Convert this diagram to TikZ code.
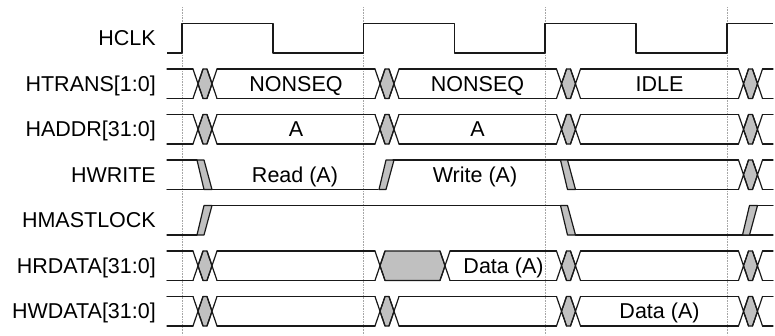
\documentclass[tikz,border=0pt]{standalone}
\usepackage{fontspec}
\setmainfont{Liberation Sans}
\usepackage{xcolor}
\usepackage{tikz}
\definecolor{xgray}{RGB}{192,192,192}
\tikzset{
  wave/.style={line width=1.2pt, black!90, line cap=round, line join=round},
  gapfill/.style={wave, fill=xgray},
  edgeline/.style={densely dotted, gray!70, line width=0.6pt},
  sig/.style={anchor=east, inner sep=0pt, text height=15pt, text depth=0pt, font=\fontsize{21.5}{24}\selectfont},
  val/.style={inner sep=0pt, text height=15pt, text depth=0pt, font=\fontsize{21.5}{24}\selectfont}
}
% bus change: start, top, bottom
\newcommand{\busswap}[3]{
  \filldraw[gapfill] ({#1+5},{(#2+#3)/2}) -- ({#1+10},#2) -- ({#1+14},#2) -- ({#1+19},{(#2+#3)/2}) -- ({#1+14},#3) -- ({#1+10},#3) -- cycle;
  \draw[wave] (#1,#2) -- ({#1+10},#3) (#1,#3) -- ({#1+10},#2);
  \draw[wave] ({#1+14},#2) -- ({#1+24},#3) ({#1+14},#3) -- ({#1+24},#2);
}
% single bit edges
\newcommand{\bitfall}[3]{
  \filldraw[gapfill] ({#1+4},#2) -- ({#1+11},#2) -- ({#1+19},#3) -- ({#1+11},#3) -- cycle;
}
\newcommand{\bitrise}[3]{
  \filldraw[gapfill] ({#1+4},#3) -- ({#1+11},#3) -- ({#1+19},#2) -- ({#1+11},#2) -- cycle;
}
% full bus row
\newcommand{\busrow}[2]{
  \foreach \s/\e in {167/193, 217/375, 399/556.5, 580.5/738.5, 762.5/773}
    \draw[wave] (\s,#1) -- (\e,#1) (\s,#2) -- (\e,#2);
  \foreach \s in {193, 375, 556.5, 738.5}
    {\busswap{\s}{#1}{#2}}
}

\begin{document}
\begin{tikzpicture}[x=1pt, y=-1pt]
\useasboundingbox (0,0) rectangle (775,335);

% clock edges
\foreach \x in {182, 363.5, 545, 727}
  \draw[edgeline] (\x,7) -- (\x,335);

% signal names
\node[sig] (hclk) at (156,38) {HCLK};
\node[sig] (htrans) at (156,83.75) {HTRANS[1:0]};
\node[sig] (haddr) at (156,129.25) {HADDR[31:0]};
\node[sig] (hwrite) at (156,174.75) {HWRITE};
\node[sig] (hmastlock) at (156,220.25) {HMASTLOCK};
\node[sig] (hrdata) at (156,265.75) {HRDATA[31:0]};
\node[sig] (hwdata) at (156,311.25) {HWDATA[31:0]};

% HCLK
\draw[wave, line cap=butt] (167,53) -- (182,53) -- (182,23.5) -- (273,23.5) -- (273,53) -- (363.5,53) -- (363.5,23.5)
  -- (454.5,23.5) -- (454.5,53) -- (545,53) -- (545,23.5) -- (636,23.5) -- (636,53) -- (727,53) -- (727,23.5) -- (773,23.5);

% HTRANS
\busrow{69}{98.5}
\node[val] (trans1) at (296,83.75) {NONSEQ};
\node[val] (trans2) at (477.5,83.75) {NONSEQ};
\node[val] (trans3) at (659.5,83.75) {IDLE};

% HADDR
\busrow{114.5}{144}
\node[val] (addr1) at (296,129.25) {A};
\node[val] (addr2) at (477.5,129.25) {A};

% HWRITE
\draw[wave] (167,160) -- (197,160) (167,189.5) -- (378,189.5);
\bitfall{193}{160}{189.5}
\bitrise{375}{160}{189.5}
\draw[wave] (393,160) -- (738.5,160) (575.5,189.5) -- (738.5,189.5);
\bitfall{556.5}{160}{189.5}
\busswap{738.5}{160}{189.5}
\draw[wave] (762.5,160) -- (773,160) (762.5,189.5) -- (773,189.5);
\node[val] (write1) at (295,174.75) {Read (A)};
\node[val] (write2) at (475,174.75) {Write (A)};

% HMASTLOCK
\draw[wave] (167,235) -- (197,235) (212,205.5) -- (560.5,205.5) (575.5,235) -- (773,235) (757.5,205.5) -- (773,205.5);
\bitrise{193}{205.5}{235}
\bitfall{556.5}{205.5}{235}
\bitrise{738.5}{205.5}{235}

% HRDATA
\draw[wave] (167,251) -- (193,251) (167,280.5) -- (193,280.5);
\busswap{193}{251}{280.5}
\draw[wave] (217,251) -- (375,251) (217,280.5) -- (375,280.5);
\filldraw[gapfill] (380,265.75) -- (385,251) -- (440,251) -- (445,265.75) -- (440,280.5) -- (385,280.5) -- cycle;
\draw[wave] (375,251) -- (385,280.5) (375,280.5) -- (385,251);
\draw[wave] (440,251) -- (450,280.5) (440,280.5) -- (450,251);
\draw[wave] (450,251) -- (556.5,251) (450,280.5) -- (556.5,280.5);
\busswap{556.5}{251}{280.5}
\draw[wave] (580.5,251) -- (738.5,251) (580.5,280.5) -- (738.5,280.5);
\busswap{738.5}{251}{280.5}
\draw[wave] (762.5,251) -- (773,251) (762.5,280.5) -- (773,280.5);
\node[val] (rdata) at (503.5,265.75) {Data (A)};

% HWDATA
\busrow{296.5}{326}
\node[val] (wdata) at (659.5,311.25) {Data (A)};
\end{tikzpicture}
\end{document}
